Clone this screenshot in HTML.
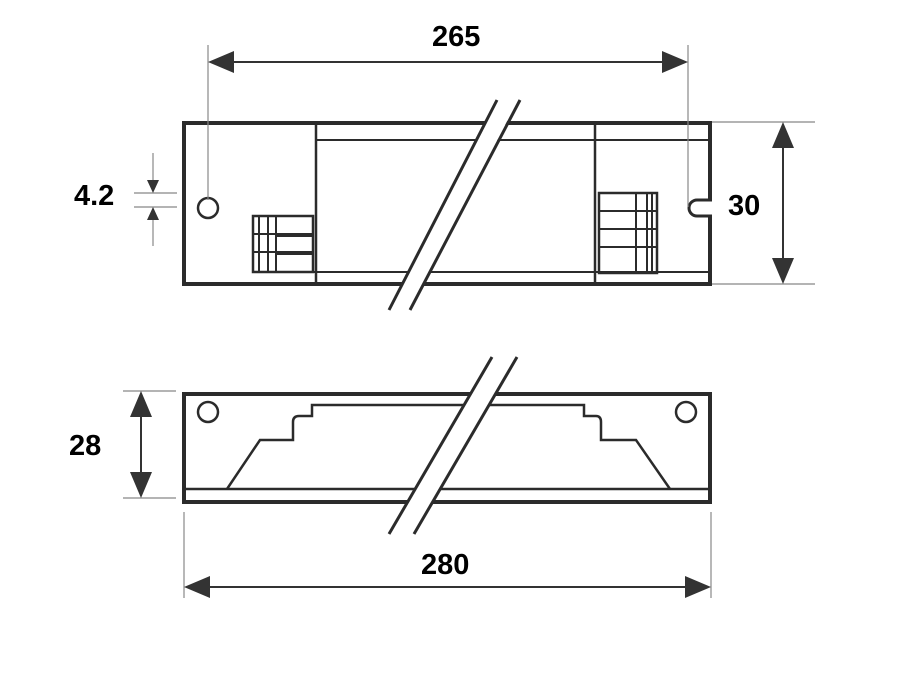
<!DOCTYPE html>
<html><head><style>body{margin:0;background:#fff}svg{display:block}text{font-family:"Liberation Sans",sans-serif;font-weight:bold;font-size:29px;fill:#000}</style></head><body>
<svg width="903" height="678" viewBox="0 0 903 678" xmlns="http://www.w3.org/2000/svg">
<g fill="none" stroke="#2b2b2b">
<rect x="184" y="123" width="526" height="161" stroke-width="4"/>
<line x1="315" y1="140" x2="710" y2="140" stroke-width="2"/>
<line x1="260" y1="272" x2="710" y2="272" stroke-width="2"/>
<line x1="316" y1="123" x2="316" y2="284" stroke-width="2.5"/>
<line x1="595" y1="123" x2="595" y2="284" stroke-width="2.5"/>
<circle cx="208" cy="208" r="10" stroke-width="2.5"/>
<rect x="253" y="216" width="60" height="56" stroke-width="2.5"/>
<line x1="259" y1="216" x2="259" y2="272" stroke-width="2"/>
<line x1="268" y1="216" x2="268" y2="272" stroke-width="2"/>
<line x1="276" y1="216" x2="276" y2="272" stroke-width="2"/>
<line x1="253" y1="234" x2="313" y2="234" stroke-width="2"/>
<line x1="276" y1="236" x2="313" y2="236" stroke-width="2"/>
<line x1="253" y1="252" x2="313" y2="252" stroke-width="2"/>
<line x1="276" y1="254" x2="313" y2="254" stroke-width="2"/>
<rect x="599" y="193" width="58" height="80" stroke-width="2.5"/>
<line x1="636" y1="193" x2="636" y2="273" stroke-width="2"/>
<line x1="647" y1="193" x2="647" y2="273" stroke-width="2"/>
<line x1="652" y1="193" x2="652" y2="273" stroke-width="2"/>
<line x1="599" y1="211" x2="657" y2="211" stroke-width="2"/>
<line x1="599" y1="229" x2="657" y2="229" stroke-width="2"/>
<line x1="599" y1="247" x2="657" y2="247" stroke-width="2"/>
</g>
<rect x="690" y="200" width="24" height="16" fill="#fff"/>
<path d="M712 200 H697 A8 8 0 0 0 697 216 H712" fill="none" stroke="#2b2b2b" stroke-width="3"/>
<g fill="none" stroke="#2b2b2b">
<rect x="184" y="394" width="526" height="108" stroke-width="4"/>
<line x1="184" y1="489" x2="710" y2="489" stroke-width="2.5"/>
<circle cx="208" cy="412" r="10" stroke-width="2.5"/>
<circle cx="686" cy="412" r="10" stroke-width="2.5"/>
<path d="M227 489 L260 440 H293 V422 Q293 416 299 416 H312 V405 H584 V416 H596 Q601 416 601 422 V440 H636 L670 489" stroke-width="2.5"/>
</g>
<polygon points="497,100 518,100 410,310 389,310" fill="#fff"/>
<line x1="497" y1="100" x2="389" y2="310" stroke="#2b2b2b" stroke-width="3"/>
<line x1="520" y1="100" x2="410" y2="310" stroke="#2b2b2b" stroke-width="3"/>
<polygon points="492,357 517,357 414,534 389,534" fill="#fff"/>
<line x1="492" y1="357" x2="389" y2="534" stroke="#2b2b2b" stroke-width="3"/>
<line x1="517" y1="357" x2="414" y2="534" stroke="#2b2b2b" stroke-width="3"/>
<g stroke="#888" stroke-width="1.2">
<line x1="208" y1="45" x2="208" y2="200"/>
<line x1="688" y1="45" x2="688" y2="207"/>
<line x1="712" y1="122" x2="815" y2="122"/>
<line x1="712" y1="284" x2="815" y2="284"/>
<line x1="123" y1="391" x2="176" y2="391"/>
<line x1="123" y1="498" x2="176" y2="498"/>
<line x1="184" y1="512" x2="184" y2="598"/>
<line x1="711" y1="512" x2="711" y2="598"/>
<line x1="134" y1="193" x2="177" y2="193"/>
<line x1="134" y1="207" x2="177" y2="207"/>
<line x1="153" y1="153" x2="153" y2="185"/>
<line x1="153" y1="215" x2="153" y2="246"/>
</g>
<g stroke="#333" stroke-width="2">
<line x1="230" y1="62" x2="666" y2="62"/>
<line x1="783" y1="145" x2="783" y2="262"/>
<line x1="141" y1="414" x2="141" y2="476"/>
<line x1="206" y1="587" x2="689" y2="587"/>
</g>
<g fill="#333">
<polygon points="208,62 234,51 234,73"/><polygon points="688,62 662,51 662,73"/>
<polygon points="783,122 772,148 794,148"/><polygon points="783,284 772,258 794,258"/>
<polygon points="141,391 130,417 152,417"/><polygon points="141,498 130,472 152,472"/>
<polygon points="184,587 210,576 210,598"/><polygon points="711,587 685,576 685,598"/>
<polygon points="153,193 147,180 159,180"/><polygon points="153,207 147,220 159,220"/>
</g>
<text x="432" y="46">265</text>
<text x="728" y="215">30</text>
<text x="74" y="205">4.2</text>
<text x="69" y="455">28</text>
<text x="421" y="574">280</text>
</svg>
</body></html>
